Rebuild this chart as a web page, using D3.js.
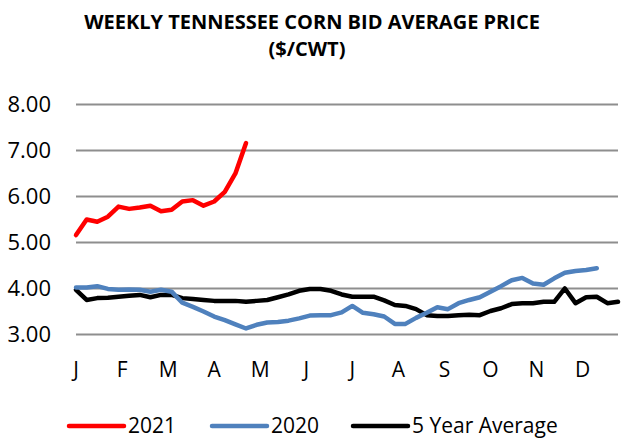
<!DOCTYPE html>
<html>

<head>
  <title>Weekly Tennessee Corn Bid Average Price</title>
  <script type="text/javascript" src="https://cdn.jsdelivr.net/npm/d3@7"></script>
  <style>
    body { margin: 0; background: #fff; }
    text { font-family: "Open Sans", "Noto Sans", sans-serif; fill: #000; }
  </style>
</head>

<body>
  <script type="text/javascript">
    // Size
    const w = 623;
    const h = 439;

    // Month labels (one per month, spread over the 52 weeks)
    const months = ["J", "F", "M", "A", "M", "J", "J", "A", "S", "O", "N", "D"];
    const yTicks = [3, 4, 5, 6, 7, 8];

    // Weekly prices, $/cwt
    const price2021 = [5.15, 5.49, 5.44, 5.55, 5.77, 5.72, 5.75, 5.79, 5.67, 5.70,
      5.88, 5.91, 5.79, 5.88, 6.09, 6.49, 7.15];
    const price2020 = [4.01, 4.01, 4.04, 3.98, 3.96, 3.97, 3.96, 3.92, 3.96, 3.92,
      3.68, 3.59, 3.49, 3.38, 3.30, 3.21, 3.12, 3.20, 3.25, 3.26,
      3.29, 3.34, 3.40, 3.41, 3.41, 3.47, 3.61, 3.46, 3.43, 3.38,
      3.22, 3.22, 3.35, 3.46, 3.58, 3.54, 3.67, 3.74, 3.80, 3.92,
      4.04, 4.17, 4.22, 4.10, 4.07, 4.21, 4.33, 4.37, 4.39, 4.43];
    const price5yr = [3.96, 3.74, 3.78, 3.79, 3.81, 3.83, 3.85, 3.80, 3.85, 3.85,
      3.78, 3.76, 3.74, 3.72, 3.72, 3.72, 3.70, 3.72, 3.74, 3.80,
      3.86, 3.94, 3.98, 3.98, 3.94, 3.86, 3.81, 3.81, 3.81, 3.73,
      3.63, 3.61, 3.54, 3.41, 3.39, 3.39, 3.41, 3.42, 3.41, 3.50,
      3.56, 3.65, 3.67, 3.67, 3.70, 3.70, 3.99, 3.67, 3.80, 3.81,
      3.67, 3.70];

    const series = [
      { name: "2021", color: "#ff0000", values: price2021 },
      { name: "2020", color: "#4f81bd", values: price2020 },
      { name: "5 Year Average", color: "#000000", values: price5yr }
    ];

    // Scales
    const xScale = d3.scaleLinear().domain([0, 51]).range([76, 618]);
    const yScale = d3.scaleLinear().domain([3, 8]).range([334, 104]);

    const svg = d3.select("body")
      .append("svg")
      .attr("width", w)
      .attr("height", h);

    // Title
    const title = svg.append("text")
      .attr("text-anchor", "middle")
      .attr("font-weight", "bold")
      .attr("font-size", 20);
    title.append("tspan").attr("x", 312).attr("y", 29)
      .text("WEEKLY TENNESSEE CORN BID AVERAGE PRICE");
    title.append("tspan").attr("x", 307).attr("y", 56)
      .text("($/CWT)");

    // Gridlines
    svg.append("g")
      .attr("transform", "translate(76,0)")
      .call(d3.axisLeft(yScale).tickValues(yTicks).tickSize(-542).tickFormat(""))
      .call(g => g.select(".domain").remove())
      .call(g => g.selectAll("line").attr("stroke", "#8e8e8e").attr("stroke-width", 2));

    // Y labels
    svg.append("g")
      .attr("transform", "translate(51,0)")
      .call(d3.axisLeft(yScale).tickValues(yTicks).tickSize(0).tickPadding(0).tickFormat(d3.format(".2f")))
      .call(g => g.select(".domain").remove())
      .call(g => g.selectAll("text").attr("font-size", 22).attr("font-family", "'Open Sans', sans-serif").attr("fill", "#000"));

    // Month labels
    svg.append("g")
      .selectAll("text")
      .data(months)
      .enter()
      .append("text")
      .attr("x", (d, i) => xScale(i * 52 / 12))
      .attr("y", 377)
      .attr("text-anchor", "middle")
      .attr("font-size", 21)
      .text(d => d);

    // Lines
    const line = d3.line()
      .x((d, i) => xScale(i))
      .y(d => yScale(d));

    svg.selectAll("path.series")
      .data(series.slice().reverse())
      .enter()
      .append("path")
      .attr("class", "series")
      .attr("fill", "none")
      .attr("stroke", d => d.color)
      .attr("stroke-width", 4.5)
      .attr("stroke-linejoin", "round")
      .attr("stroke-linecap", "round")
      .attr("d", d => line(d.values));

    // Legend
    const legendX = [69, 212, 353];
    const legend = svg.selectAll("g.legend")
      .data(series)
      .enter()
      .append("g")
      .attr("class", "legend")
      .attr("transform", (d, i) => "translate(" + legendX[i] + ",426)");
    legend.append("line")
      .attr("x1", 0).attr("x2", 55)
      .attr("stroke", d => d.color)
      .attr("stroke-width", 4.5)
      .attr("stroke-linecap", "round");
    legend.append("text")
      .attr("x", 59)
      .attr("y", 7)
      .attr("font-size", 21)
      .text(d => d.name);
  </script>
</body>

</html>
